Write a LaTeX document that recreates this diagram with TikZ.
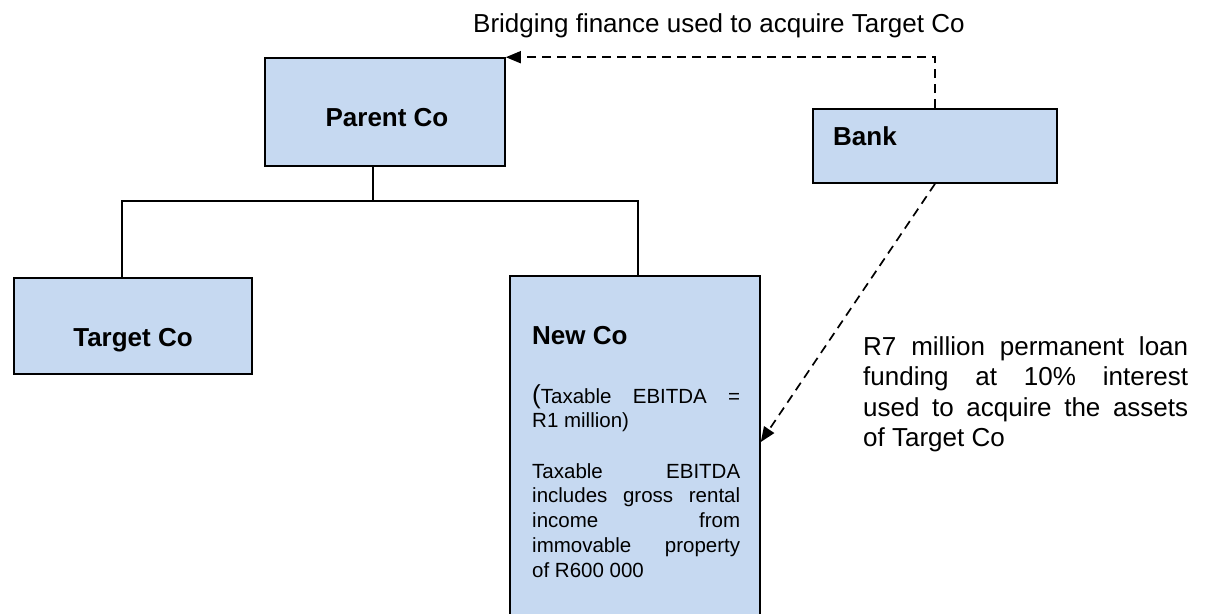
\documentclass[tikz,border=0pt]{standalone}
\usepackage{fontspec}
\setmainfont{Liberation Sans}
\usetikzlibrary{arrows.meta}
\definecolor{boxfill}{RGB}{198,217,241}
\begin{document}
\begin{tikzpicture}[x=1pt,y=-1pt,
  box/.style={draw=black,line width=1.6pt,fill=boxfill,inner sep=0pt},
  title/.style={font=\bfseries\fontsize{26}{30}\selectfont,inner sep=0pt},
  big/.style={font=\fontsize{26}{30.5}\selectfont,inner sep=0pt},
  body/.style={font=\fontsize{20.5}{24.8}\selectfont,inner sep=0pt,text width=208pt,align=justify},
  flow/.style={line width=1.7pt,dash pattern=on 9pt off 6pt,-{Triangle[length=15pt,width=12pt]}},
  tree/.style={line width=1.6pt}]
\useasboundingbox (0,0) rectangle (1206,613);
% boxes
\node[box,minimum width=240pt,minimum height=108pt] (parent) at (385,112) {};
\node[box,minimum width=244pt,minimum height=74pt] (bank) at (935,146) {};
\node[box,minimum width=238pt,minimum height=96pt] (target) at (133,326) {};
\node[box,minimum width=250pt,minimum height=349pt] (newco) at (635,450.5) {};
% labels
\node[title,anchor=base] (parentlbl) at (387,126) {Parent Co};
\node[title,anchor=base west] (banklbl) at (833,145) {Bank};
\node[title,anchor=base] (targetlbl) at (133,346) {Target Co};
\node[title,anchor=base west] (newcolbl) at (532,344) {New Co};
\node[body,anchor=north west] (newcop1) at (532,384) {\hyphenpenalty=10000 {\fontsize{26}{30}\selectfont(}Taxable EBITDA =\linebreak R1 million)};
\node[body,anchor=north west] (newcop2) at (532,463) {\hyphenpenalty=10000 Taxable EBITDA\linebreak includes gross rental\linebreak income from\linebreak immovable property\linebreak of R600~000};
\node[big,anchor=base west] (bridge) at (473,32) {Bridging finance used to acquire Target Co};
\node[big,text width=325pt,align=justify,anchor=north west] (loan) at (863,336) {\hyphenpenalty=10000 R7 million permanent loan\linebreak funding at 10\% interest\linebreak used to acquire the assets\linebreak of Target Co};
% tree connectors
\coordinate (j) at (373,202);
\draw[tree] (parent.south -| j) -- (j);
\draw[tree] ([xshift=-11pt]target.north) -- ++(0,-76) -| ([xshift=3pt]newco.north);
% flows
\draw[flow] (bank.north) -- ++(0,-51) -- (parent.north east);
\draw[flow] (bank.south) -- (newco.east |- 0,442);
\end{tikzpicture}
\end{document}
